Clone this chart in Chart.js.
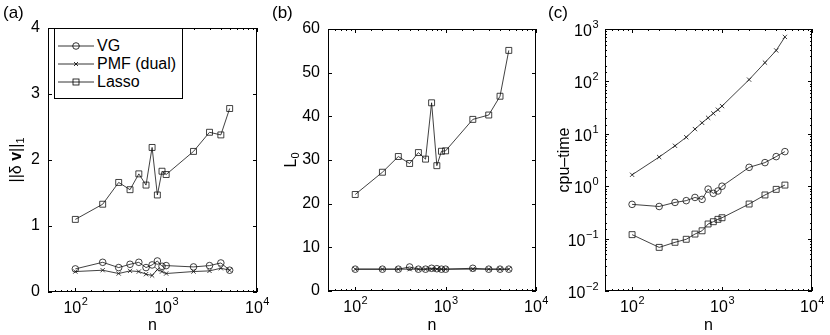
<!DOCTYPE html>
<html lang="en">
<head>
<meta charset="UTF-8" />
<title>VG / PMF (dual) / Lasso versus n</title>
<script src="https://cdn.jsdelivr.net/npm/chart.js"></script>
<style>
  body { margin: 0; background: #fff; font-family: 'Liberation Sans', Arial, sans-serif; }
  #wrap { position: relative; width: 830px; height: 335px; overflow: hidden; }
  canvas { position: absolute; top: 0; }
  .tag { position: absolute; top: 3px; font-size: 17px; color: #000; }
  #legend {
    position: absolute; left: 54px; top: 28px; width: 129px; height: 71px;
    border: 1px solid #000; background: #fff; box-sizing: border-box;
    padding-top: 8px; font-size: 16px; color: #000;
  }
  .row { display: flex; align-items: center; height: 18px; }
  .row svg { margin: 0 3px 0 3px; }
</style>
</head>
<body>
<div id="wrap">
  <canvas id="chartA" width="275" height="335" style="left:0px"></canvas>
  <canvas id="chartB" width="275" height="335" style="left:275px"></canvas>
  <canvas id="chartC" width="280" height="335" style="left:550px"></canvas>
  <div class="tag" style="left:3px">(a)</div>
  <div class="tag" style="left:272px">(b)</div>
  <div class="tag" style="left:548px">(c)</div>
  <div id="legend">
    <div class="row">
      <svg width="36" height="10"><line x1="0" y1="5" x2="36" y2="5" stroke="#000" stroke-width="0.8"/><circle cx="18" cy="5" r="3.3" fill="none" stroke="#000" stroke-width="0.8"/></svg>
      <span>VG</span>
    </div>
    <div class="row">
      <svg width="36" height="10"><line x1="0" y1="5" x2="36" y2="5" stroke="#000" stroke-width="0.8"/><path d="M16 3 L20 7 M20 3 L16 7" stroke="#000" stroke-width="0.8"/></svg>
      <span>PMF (dual)</span>
    </div>
    <div class="row">
      <svg width="36" height="10"><line x1="0" y1="5" x2="36" y2="5" stroke="#000" stroke-width="0.8"/><rect x="15" y="2" width="6" height="6" fill="none" stroke="#000" stroke-width="0.8"/></svg>
      <span>Lasso</span>
    </div>
  </div>
</div>

<script>
  // problem sizes
  const nValues = [100, 200, 300, 400, 500, 600, 700, 800, 900, 1000, 2000, 3000, 4000, 5000];

  // (a) ||dv||_1
  const vgL1    = [0.35, 0.45, 0.37, 0.42, 0.45, 0.37, 0.41, 0.47, 0.39, 0.40, 0.38, 0.40, 0.44, 0.33];
  const pmfL1   = [0.31, 0.33, 0.28, 0.32, 0.31, 0.27, 0.25, 0.34, 0.31, 0.28, 0.31, 0.32, 0.36, 0.33];
  const lassoL1 = [1.10, 1.33, 1.66, 1.55, 1.79, 1.62, 2.19, 1.47, 1.83, 1.78, 2.13, 2.42, 2.38, 2.78];

  // (b) L0
  const vgL0    = [5, 5, 5, 5.5, 5, 5, 5.2, 5.1, 5, 5, 5.2, 5, 5, 5];
  const pmfL0   = [5, 5, 5, 5, 5, 5, 5, 5, 5, 5, 5, 5, 5, 5];
  const lassoL0 = [22.1, 27.2, 30.8, 29.2, 31.7, 30.2, 43.1, 28.7, 32.0, 32.1, 39.3, 40.3, 44.6, 55.1];

  // (c) cpu-time
  const vgCpu    = [0.45, 0.41, 0.49, 0.53, 0.61, 0.56, 0.88, 0.73, 0.81, 1.0, 2.29, 2.82, 3.67, 4.57];
  const pmfCpu   = [1.65, 3.6, 5.9, 8.6, 12.3, 16.2, 20.2, 24.5, 28.8, 33.8, 108, 228, 390, 706];
  const lassoCpu = [0.119, 0.068, 0.085, 0.097, 0.122, 0.141, 0.19, 0.21, 0.233, 0.25, 0.457, 0.68, 0.87, 1.05];

  // tick labels
  const xTickExps   = [2, 3, 4];
  const yTicksA     = [0, 1, 2, 3, 4];
  const yTicksB     = [0, 10, 20, 30, 40, 50, 60];
  const cpuTickExps = [-2, -1, 0, 1, 2, 3];

  // axis titles, as runs of text (b = bold, s = subscript)
  const titleA = [{ t: '||\u03b4 ' }, { t: 'v', b: true }, { t: '||' }, { t: '1', s: true }];
  const titleB = [{ t: 'L' }, { t: '0', s: true }];
  const titleC = [{ t: 'cpu\u2013time' }];

  const FONT = "'Liberation Sans', Arial, sans-serif";
  const isPow10 = v => Math.abs(Math.log10(v) - Math.round(Math.log10(v))) < 1e-6;

  // draws "10" with a raised exponent
  function powLabel(ctx, exp, x, y, align) {
    const base = '10', sup = String(exp).replace('-', '\u2212');
    ctx.font = '16px ' + FONT;
    const wb = ctx.measureText(base).width;
    ctx.font = '11px ' + FONT;
    const ws = ctx.measureText(sup).width;
    let x0 = align === 'right' ? x - wb - ws : x - (wb + ws) / 2;
    ctx.textAlign = 'left';
    ctx.textBaseline = 'alphabetic';
    ctx.font = '16px ' + FONT;
    ctx.fillText(base, x0, y);
    ctx.font = '11px ' + FONT;
    ctx.fillText(sup, x0 + wb + 0.5, y - 8);
  }

  // rotated y title made of runs
  function runTitle(ctx, runs, cx, cy) {
    const fontOf = r => (r.b ? 'bold ' : '') + (r.s ? '11px ' : '16px ') + FONT;
    let total = 0;
    runs.forEach(r => { ctx.font = fontOf(r); r.w = ctx.measureText(r.t).width; total += r.w; });
    ctx.save();
    ctx.translate(cx, cy);
    ctx.rotate(-Math.PI / 2);
    ctx.textAlign = 'left';
    ctx.textBaseline = 'alphabetic';
    let x = -total / 2;
    runs.forEach(r => {
      ctx.font = fontOf(r);
      ctx.fillText(r.t, x, r.s ? 9 : 6);
      x += r.w;
    });
    ctx.restore();
  }

  // matlab style box, inward ticks, power-of-ten labels, y title
  const matlabAxes = {
    id: 'matlabAxes',
    afterDraw(chart) {
      const { ctx, chartArea: a, scales } = chart;
      const extra = chart.options.plugins.matlabAxes;
      ctx.save();
      ctx.strokeStyle = '#000';
      ctx.lineWidth = 1;
      ctx.strokeRect(a.left + 0.5, a.top + 0.5, a.width - 1, a.height - 1);
      ctx.beginPath();
      scales.x.ticks.forEach(t => {
        const px = Math.round(scales.x.getPixelForValue(t.value)) + 0.5;
        const len = isPow10(t.value) ? 4 : 2;
        ctx.moveTo(px, a.bottom); ctx.lineTo(px, a.bottom - len);
        ctx.moveTo(px, a.top); ctx.lineTo(px, a.top + len);
      });
      const ys = scales.y;
      ys.ticks.forEach(t => {
        const py = Math.round(ys.getPixelForValue(t.value)) + 0.5;
        const len = (ys.type === 'logarithmic' && !isPow10(t.value)) ? 2 : 4;
        ctx.moveTo(a.left, py); ctx.lineTo(a.left + len, py);
        ctx.moveTo(a.right, py); ctx.lineTo(a.right - len, py);
      });
      ctx.stroke();
      ctx.fillStyle = '#000';
      xTickExps.forEach(e => {
        powLabel(ctx, e, scales.x.getPixelForValue(Math.pow(10, e)), a.bottom + 21, 'center');
      });
      if (ys.type === 'logarithmic') {
        cpuTickExps.forEach(e => {
          powLabel(ctx, e, a.left - 7, ys.getPixelForValue(Math.pow(10, e)) + 7, 'right');
        });
      }
      runTitle(ctx, extra.title, extra.titleX, (a.top + a.bottom) / 2);
      ctx.restore();
    }
  };

  function series(arr, style, radius) {
    return {
      data: nValues.map((n, i) => ({ x: n, y: arr[i] })),
      borderColor: '#111',
      borderWidth: 0.8,
      pointStyle: style,
      pointRadius: radius,
      pointBorderWidth: 0.8,
      pointBorderColor: '#111',
      pointBackgroundColor: 'rgba(0,0,0,0)',
      tension: 0,
      clip: false
    };
  }

  function makeChart(id, cfg) {
    const yAxis = {
      position: 'left',
      grid: { display: false, drawTicks: false },
      border: { display: false },
      afterFit: s => { s.width = cfg.yWidth; }
    };
    if (cfg.yLog) {
      Object.assign(yAxis, { type: 'logarithmic', min: 0.01, max: 1000, ticks: { display: false } });
    } else {
      Object.assign(yAxis, {
        type: 'linear', min: cfg.yTicks[0], max: cfg.yTicks[cfg.yTicks.length - 1],
        ticks: { color: '#000', font: { family: FONT, size: 16 }, padding: 8 },
        afterBuildTicks: s => { s.ticks = cfg.yTicks.map(v => ({ value: v })); }
      });
    }
    return new Chart(document.getElementById(id), {
      type: 'line',
      data: { datasets: [
        series(cfg.vg, 'circle', 3.3),
        series(cfg.pmf, 'crossRot', 3),
        series(cfg.lasso, 'rect', 4.2)
      ] },
      options: {
        responsive: false,
        animation: false,
        events: [],
        layout: { padding: { top: cfg.top, right: cfg.right, bottom: 0, left: 0 } },
        plugins: {
          legend: { display: false },
          tooltip: { enabled: false },
          matlabAxes: { title: cfg.yTitle, titleX: cfg.titleX }
        },
        scales: {
          x: {
            type: 'logarithmic', min: 50, max: 10000,
            grid: { display: false, drawTicks: false },
            border: { display: false },
            ticks: { display: false },
            title: { display: true, text: 'n', color: '#000',
                     font: { family: FONT, size: 16 }, padding: { top: 0, bottom: 0 } },
            afterFit: s => { s.height = cfg.xHeight; }
          },
          y: yAxis
        }
      },
      plugins: [matlabAxes]
    });
  }

  makeChart('chartA', {
    vg: vgL1, pmf: pmfL1, lasso: lassoL1, yTicks: yTicksA, yTitle: titleA,
    yWidth: 48, titleX: 15, top: 28, right: 18, xHeight: 43
  });
  makeChart('chartB', {
    vg: vgL0, pmf: pmfL0, lasso: lassoL0, yTicks: yTicksB, yTitle: titleB,
    yWidth: 53, titleX: 15, top: 29, right: 14, xHeight: 44
  });
  makeChart('chartC', {
    vg: vgCpu, pmf: pmfCpu, lasso: lassoCpu, yLog: true, yTitle: titleC,
    yWidth: 55, titleX: 13, top: 29, right: 18, xHeight: 44
  });
</script>
</body>
</html>
